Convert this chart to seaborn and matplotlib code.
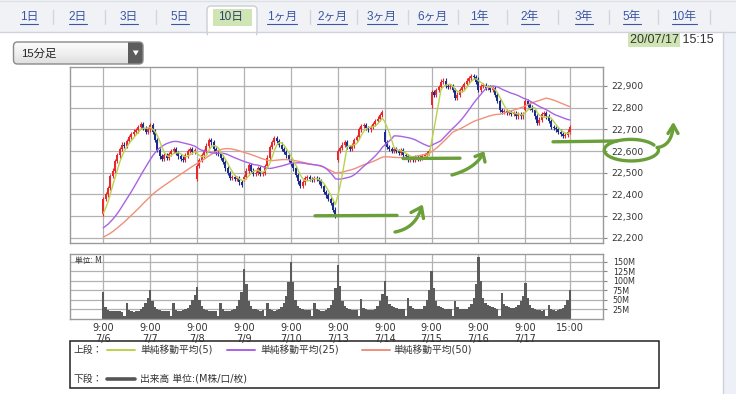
import numpy as np
import pandas as pd
import matplotlib
matplotlib.use("Agg")
import matplotlib.pyplot as plt
import seaborn as sns
from matplotlib.patches import Rectangle, FancyBboxPatch, Polygon

# 15分足 終値 (1日20本: 前場10本 + 後場10本)
close_0706 = [22380, 22400, 22430, 22485, 22510, 22555, 22580, 22610, 22630, 22625,
              22645, 22665, 22680, 22690, 22695, 22710, 22725, 22705, 22690, 22700]
close_0707 = [22720, 22690, 22650, 22605, 22575, 22565, 22580, 22570, 22585, 22600,
              22610, 22590, 22575, 22565, 22560, 22580, 22600, 22610, 22595, 22605]
close_0708 = [22530, 22560, 22580, 22600, 22625, 22650, 22640, 22610, 22590, 22585,
              22570, 22550, 22520, 22500, 22475, 22480, 22470, 22475, 22455, 22445]
close_0709 = [22480, 22510, 22535, 22510, 22495, 22500, 22520, 22495, 22500, 22530,
              22570, 22620, 22640, 22660, 22645, 22630, 22610, 22595, 22580, 22560]
close_0710 = [22540, 22520, 22490, 22460, 22440, 22455, 22475, 22480, 22470, 22465,
              22475, 22470, 22460, 22440, 22410, 22395, 22380, 22360, 22330, 22300]
close_0713 = [22600, 22615, 22630, 22640, 22620, 22610, 22625, 22650, 22665, 22700,
              22715, 22720, 22705, 22700, 22710, 22725, 22740, 22750, 22765, 22780]
close_0714 = [22640, 22620, 22610, 22600, 22610, 22600, 22590, 22605, 22580, 22575,
              22560, 22565, 22560, 22570, 22565, 22570, 22575, 22580, 22590, 22600]
close_0715 = [22870, 22860, 22880, 22895, 22920, 22925, 22900, 22895, 22900, 22880,
              22845, 22860, 22880, 22895, 22910, 22925, 22935, 22945, 22940, 22920]
close_0716 = [22880, 22900, 22905, 22890, 22895, 22880, 22890, 22860, 22830, 22790,
              22780, 22785, 22775, 22780, 22770, 22775, 22760, 22770, 22760, 22770]
close_0717 = [22830, 22815, 22800, 22790, 22760, 22730, 22745, 22770, 22775, 22760,
              22740, 22710, 22705, 22700, 22690, 22680, 22670, 22675, 22690, 22710]

# 各日の始値 (寄り付き)
day_open = [22310, 22700, 22470, 22470, 22555, 22560, 22690, 22810, 22930, 22790]

# 7/6以前の終値 (移動平均の計算用のみ)
warmup = [22110, 22120, 22135, 22150, 22140, 22130, 22145, 22160, 22170, 22155,
          22140, 22150, 22165, 22175, 22180, 22170, 22160, 22150, 22155, 22165,
          22175, 22180, 22185, 22170, 22180,
          22190, 22200, 22215, 22210, 22220, 22230, 22225, 22215, 22205, 22210,
          22220, 22230, 22240, 22235, 22225, 22230, 22240, 22250, 22245, 22255,
          22270, 22285, 22290, 22300, 22310]

# 出来高 (M)
vol_0706 = [69, 30, 22, 20, 19, 21, 20, 19, 18, 6, 42, 22, 19, 18, 19, 20, 24, 30, 40, 55]
vol_0707 = [76, 45, 30, 24, 22, 20, 21, 19, 20, 6, 40, 23, 21, 20, 22, 24, 28, 36, 48, 62]
vol_0708 = [83, 48, 32, 25, 22, 21, 20, 20, 21, 6, 40, 24, 21, 20, 20, 22, 26, 34, 48, 70]
vol_0709 = [130, 90, 45, 32, 26, 24, 22, 21, 22, 6, 42, 25, 22, 21, 22, 24, 30, 40, 60, 95]
vol_0710 = [150, 95, 50, 34, 28, 25, 23, 22, 22, 6, 40, 24, 22, 21, 21, 23, 27, 35, 50, 80]
vol_0713 = [141, 85, 45, 33, 27, 24, 23, 22, 22, 6, 52, 28, 24, 22, 22, 23, 26, 32, 45, 65]
vol_0714 = [98, 60, 38, 32, 30, 28, 26, 25, 24, 6, 55, 33, 28, 25, 24, 24, 26, 32, 48, 75]
vol_0715 = [124, 80, 45, 34, 30, 28, 26, 25, 24, 6, 47, 30, 26, 24, 24, 26, 30, 38, 55, 90]
vol_0716 = [162, 100, 55, 40, 36, 33, 30, 28, 26, 6, 68, 38, 32, 30, 28, 28, 30, 35, 45, 60]
vol_0717 = [93, 55, 35, 28, 25, 23, 22, 21, 22, 6, 35, 24, 22, 21, 22, 24, 28, 36, 50, 76]

day_labels = ["7/6", "7/7", "7/8", "7/9", "7/10", "7/13", "7/14", "7/15", "7/16", "7/17"]
price_ticks = [22200, 22300, 22400, 22500, 22600, 22700, 22800, 22900]
vol_ticks = [25, 50, 75, 100, 125, 150]
tab_labels = ["1日", "2日", "3日", "5日", "10日", "1ヶ月", "2ヶ月", "3ヶ月", "6ヶ月",
              "1年", "2年", "3年", "5年", "10年"]
tab_x = [29, 78, 129, 180, 231, 282, 332, 382, 432, 479, 530, 584, 632, 684]
sep_x = [53, 105, 156, 310, 357, 408, 458, 507, 558, 609, 658, 710]
selected_tab = "10日"

bars_per_day = 20
closes = (close_0706 + close_0707 + close_0708 + close_0709 + close_0710 +
          close_0713 + close_0714 + close_0715 + close_0716 + close_0717)
volumes = (vol_0706 + vol_0707 + vol_0708 + vol_0709 + vol_0710 +
           vol_0713 + vol_0714 + vol_0715 + vol_0716 + vol_0717)
n = len(closes)
idx = np.arange(n)

opens = [warmup[-1]] + closes[:-1]
for d, o in enumerate(day_open):
    opens[d * bars_per_day] = o
opens = np.array(opens, dtype=float)
closes_a = np.array(closes, dtype=float)

s = pd.Series(warmup + closes, dtype=float)
k = len(warmup)
df = pd.DataFrame({
    "idx": idx,
    "ma5": s.rolling(5).mean().iloc[k:].to_numpy(),
    "ma25": s.rolling(25).mean().iloc[k:].to_numpy(),
    "ma50": s.rolling(50).mean().iloc[k:].to_numpy(),
})
vol_df = pd.DataFrame({"idx": idx, "vol": volumes})

sns.set_style("white")
plt.rcParams["font.family"] = ["DejaVu Sans", "Noto Sans CJK JP"]
ui_font = ["Liberation Sans", "Noto Sans CJK JP"]

c_ma5, c_ma25, c_ma50 = "#b9d24c", "#a862e6", "#f0907a"
c_up, c_down = "#e8282c", "#1c2b8c"
c_vol = "#5b5b5b"
c_grid = "#b2b2b2"
c_frame = "#9a9a9a"
c_link = "#3a55a5"
green = "#6a9f3a"

W, H = 736, 394
fig = plt.figure(figsize=(W / 100, H / 100), dpi=100, facecolor="white")

bg = fig.add_axes([0, 0, 1, 1], zorder=0)
bg.set_xlim(0, W)
bg.set_ylim(H, 0)
bg.axis("off")

# --- page chrome ---
bg.add_patch(Rectangle((0, 0), W, 32, facecolor="#f0f2f6", edgecolor="none"))
bg.plot([0, W], [32, 32], color="#cfd3db", lw=1)
bg.plot([0, W], [1, 1], color="#dde0e6", lw=1)
bg.add_patch(Rectangle((723, 32), 13, H - 32, facecolor="#eef0f7", edgecolor="none"))
bg.plot([723, 723], [32, H], color="#cdd1dc", lw=1)

tab = FancyBboxPatch((207, 6), 50, 30, boxstyle="round,pad=0,rounding_size=4",
                     facecolor="white", edgecolor="#c9cdd6", lw=1)
bg.add_patch(tab)
bg.add_patch(Rectangle((208, 31), 48, 6, facecolor="white", edgecolor="none"))
bg.add_patch(Rectangle((213, 9), 39, 17, facecolor="#cfe6b4", edgecolor="none"))

renderer = fig.canvas.get_renderer()
for lab, x in zip(tab_labels, tab_x):
    if lab == selected_tab:
        bg.text(x, 17, lab, ha="center", va="center", fontsize=8.5,
                color="#2e3f70", family=ui_font)
        continue
    t = bg.text(x, 17, lab, ha="center", va="center", fontsize=8.5,
                color=c_link, family=ui_font)
    bb = t.get_window_extent(renderer)
    inv = bg.transData.inverted()
    (x0, _), (x1, _) = inv.transform([[bb.x0, bb.y0], [bb.x1, bb.y0]])
    bg.plot([x0, x1], [23.5, 23.5], color=c_link, lw=0.8)
for x in sep_x:
    bg.plot([x, x], [10, 24], color="#d2d6de", lw=1)

# dropdown
dd = FancyBboxPatch((13.5, 42), 129.5, 22, boxstyle="round,pad=0,rounding_size=4",
                    facecolor="none", edgecolor="#8a8a8a", lw=1, zorder=3)
bg.add_patch(dd)
grad = np.linspace(0, 1, 50).reshape(-1, 1)
im = bg.imshow(grad, extent=[13.5, 143, 64, 42], cmap=plt.cm.Greys,
               vmin=-0.16, vmax=5.1, aspect="auto", zorder=1)
im.set_clip_path(dd)
dark = Rectangle((128, 42), 15, 22, facecolor="#5c5c5c", edgecolor="none", zorder=2)
bg.add_patch(dark)
dark.set_clip_path(dd)
bg.add_patch(Polygon([[132.8, 50.5], [138.8, 50.5], [135.8, 55.5]],
                     closed=True, facecolor="white", edgecolor="none", zorder=3))
bg.text(21.5, 53.3, "15分足", ha="left", va="center", fontsize=8.2,
        color="#222", family=ui_font, zorder=4)

# date
bg.add_patch(Rectangle((628, 32.5), 52, 14.5, facecolor="#cfe6b4", edgecolor="none"))
bg.text(630, 39.5, "20/07/17 15:15", ha="left", va="center", fontsize=9,
        color="#333", family=ui_font)

# --- price chart ---
ax = fig.add_axes([70 / W, 1 - 242.7 / H, 533 / W, 176 / H], zorder=2)
ax.set_facecolor("white")
xlim = (-14.2, 213.1)

day_starts = [d * bars_per_day for d in range(len(day_labels))]
xt = day_starts + [n - 1]

up = closes_a >= opens
colors = np.where(up, c_up, c_down)
hi = np.maximum(opens, closes_a) + 10
lo = np.minimum(opens, closes_a) - 10
ax.vlines(idx, lo, hi, colors=colors, lw=0.8, zorder=2)
body = np.where(np.abs(closes_a - opens) < 4, 4, closes_a - opens)
ax.bar(idx, body, bottom=opens, width=0.85, color=colors, lw=0, zorder=2)

sns.lineplot(data=df, x="idx", y="ma50", color=c_ma50, lw=1.0, ax=ax, zorder=3)
sns.lineplot(data=df, x="idx", y="ma25", color=c_ma25, lw=1.0, ax=ax, zorder=3)
sns.lineplot(data=df, x="idx", y="ma5", color=c_ma5, lw=1.0, ax=ax, zorder=3)

ax.set_xlim(*xlim)
ax.set_ylim(22177, 22989)
ax.set_xlabel("")
ax.set_ylabel("")
ax.set_xticks(xt)
ax.set_yticks(price_ticks)
ax.yaxis.tick_right()
ax.set_yticklabels([f"{v:,}" for v in price_ticks], fontsize=6.6, color="#333")
ax.tick_params(axis="y", right=True, length=3, width=0.8, color="#888", pad=3)
ax.tick_params(axis="x", length=0, labelbottom=False)
ax.grid(True, color=c_grid, lw=0.9)
ax.set_axisbelow(True)
for sp in ax.spines.values():
    sp.set_color(c_frame)
    sp.set_linewidth(1)

# --- volume chart ---
axv = fig.add_axes([70 / W, 1 - 318.5 / H, 533 / W, 64.5 / H], zorder=2)
axv.set_facecolor("white")
sns.barplot(data=vol_df, x="idx", y="vol", native_scale=True, color=c_vol,
            saturation=1, width=1.0, errorbar=None, linewidth=0, ax=axv)
axv.set_xlim(*xlim)
axv.set_ylim(0, 170)
axv.set_xlabel("")
axv.set_ylabel("")
axv.set_xticks(xt)
axv.set_xticklabels([f"9:00\n{d}" for d in day_labels] + ["15:00"],
                    fontsize=7, color="#333", linespacing=1.15, va="top")
axv.set_yticks(vol_ticks)
axv.yaxis.tick_right()
axv.set_yticklabels([f"{v}M" for v in vol_ticks], fontsize=5.8, color="#333")
axv.tick_params(axis="y", right=True, length=3, width=0.8, color="#888", pad=4)
axv.tick_params(axis="x", length=0, pad=3)
axv.grid(True, color=c_grid, lw=0.9)
axv.set_axisbelow(True)
for sp in axv.spines.values():
    sp.set_color(c_frame)
    sp.set_linewidth(1)
axv.text(0.01, 0.9, "単位: M", transform=axv.transAxes, fontsize=5.5,
         color="#333", ha="left", va="center")

# --- legend box ---
bg.add_patch(Rectangle((70, 341), 589, 47, facecolor="white", edgecolor="#222", lw=1.1))
row1, row2 = 349.5, 378.5
fs = 7
bg.text(73, row1, "上段：", fontsize=fs, va="center", ha="left", color="#333")
for (x0, x1, tx, c, lab) in [(107, 135, 140, c_ma5, "単純移動平均(5)"),
                             (227, 255, 260, c_ma25, "単純移動平均(25)"),
                             (362, 390, 393, c_ma50, "単純移動平均(50)")]:
    bg.plot([x0, x1], [row1, row1], color=c, lw=1.4)
    bg.text(tx, row1, lab, fontsize=fs, va="center", ha="left", color="#333")
bg.text(73, row2, "下段：", fontsize=fs, va="center", ha="left", color="#333")
bg.plot([107, 135], [row2, row2], color="#555", lw=2.6)
bg.text(140, row2, "出来高 単位:(M株/口/枚)", fontsize=fs, va="center", ha="left", color="#333")

# --- hand-drawn marks ---
fg = fig.add_axes([0, 0, 1, 1], zorder=5)
fg.set_xlim(0, W)
fg.set_ylim(H, 0)
fg.axis("off")
fg.patch.set_alpha(0)
pen = dict(color=green, lw=2.4, solid_capstyle="round", solid_joinstyle="round")


def swoosh(p0, pc, p1, head_a, head_b):
    t = np.linspace(0, 1, 30)
    xs = (1 - t) ** 2 * p0[0] + 2 * (1 - t) * t * pc[0] + t ** 2 * p1[0]
    ys = (1 - t) ** 2 * p0[1] + 2 * (1 - t) * t * pc[1] + t ** 2 * p1[1]
    fg.plot(xs, ys, **pen)
    fg.plot([head_a[0], p1[0], head_b[0]], [head_a[1], p1[1], head_b[1]], **pen)


fg.plot([315, 397], [215.8, 215.4], **pen)
fg.plot([403, 460], [158.5, 158.2], **pen)
fg.plot([553, 617], [141.8, 141.0], **pen)
swoosh((395, 232), (416, 228), (421.5, 207), (411, 212.5), (423.5, 218.5))
swoosh((452, 175), (476, 168), (483, 153.5), (475, 156.5), (485, 162))

th = np.radians(np.linspace(28, 372, 80))
rr = np.linspace(1.0, 1.06, 80)
fg.plot(631 + 26 * rr * np.cos(th), 150 - 10.5 * rr * np.sin(th), **pen)
swoosh((657, 147.5), (672, 146), (673.3, 125), (668, 133.5), (678, 133.5))

fig.savefig("out.png", dpi=100, facecolor="white")
